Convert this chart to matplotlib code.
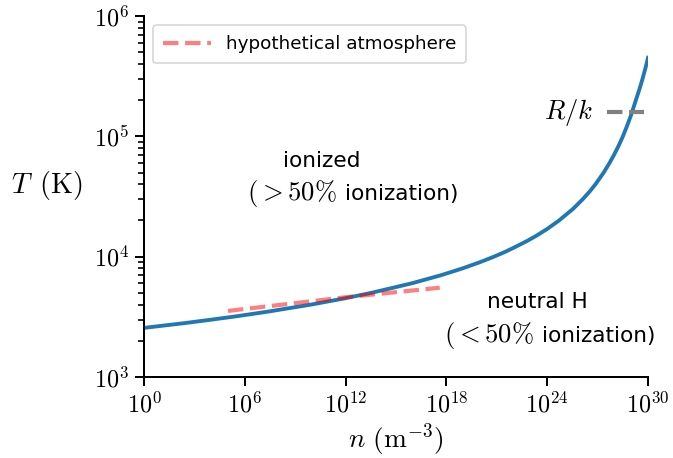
import matplotlib
matplotlib.use('Agg')
from matplotlib import pyplot as plt
from matplotlib import ticker
import numpy as np

# 50% ionization line of hydrogen
n_curve = [1.0, 2.4e2, 1.1e4, 3.4e5, 2.6e7, 9.0e9, 8.6e11, 3.3e13, 8.5e15,
           4.6e17, 9.4e18, 1.0e20, 6.8e20, 3.3e21, 1.2e22, 6.3e22, 2.4e23,
           1.0e24, 5.1e24, 3.5e25, 1.3e26, 3.5e26, 7.5e26, 2.3e27, 5.1e27,
           9.4e27, 1.9e28, 3.2e28, 5.4e28, 9.8e28, 1.9e29, 3.2e29, 4.7e29,
           7.1e29, 1.0e30]
T_curve = [2560, 2800, 3000, 3200, 3500, 4000, 4500, 5000, 6000,
           7000, 8000, 9000, 10000, 11000, 12000, 13500, 15000,
           17000, 20000, 25000, 30000, 35000, 40000, 50000, 60000,
           70000, 85000, 100000, 120000, 150000, 200000, 250000, 300000,
           370000, 450000]

# hypothetical atmosphere
n_atm = [1e5, 1e12, 4e17]
T_atm = [3540, 4600, 5520]

# R/k marker
RK = 1.578e5
n_rk = [3.6e27, 5.8e29]

LEGEND_LABEL = 'hypothetical atmosphere'
X_TICKS = [10.0 ** k for k in range(0, 31, 6)]


def exp_label(val, pos):
    return r'$10^{%d}$' % int(round(np.log10(val)))


def two_part_line(ax, x_split_left, x_split_right, y, math_part, text_part):
    ax.text(x_split_left, y, math_part, ha='right', va='baseline', fontsize=16)
    ax.text(x_split_right, y, text_part, ha='left', va='baseline', fontsize=13)


def main():
    plt.rcParams['mathtext.fontset'] = 'cm'
    plt.rcParams['font.family'] = 'DejaVu Sans'

    fig = plt.figure(figsize=(673 / 120, 458 / 120), dpi=120)
    ax = fig.add_axes([144 / 673, 1 - 377 / 458, 504 / 673, 361 / 458])

    ax.plot(n_curve, T_curve, color='#1f77b4', lw=2.3)
    ax.plot(n_atm, T_atm, color='red', alpha=0.5, ls='--', lw=2.5, label=LEGEND_LABEL)
    ax.plot(n_rk, [RK, RK], color='gray', ls='--', lw=2.5)
    ax.text(10 ** 26.75, RK, r'$R/k$', ha='right', va='center', fontsize=16)

    # region annotations
    ax.text(10 ** 10.6, 10 ** 4.746, 'ionized', ha='center', va='baseline', fontsize=13)
    two_part_line(ax, 10 ** 11.45, 10 ** 11.96, 10 ** 4.471, r'$(>50\%$', 'ionization)')
    ax.text(10 ** 23.39, 10 ** 3.574, 'neutral H', ha='center', va='baseline', fontsize=13)
    two_part_line(ax, 10 ** 23.2, 10 ** 23.71, 10 ** 3.291, r'$(<50\%$', 'ionization)')

    ax.set_xscale('log')
    ax.set_yscale('log')
    ax.set_xlim(1, 1e30)
    ax.set_ylim(1e3, 1e6)
    ax.xaxis.set_major_locator(ticker.FixedLocator(X_TICKS))
    ax.xaxis.set_minor_locator(ticker.NullLocator())
    ax.xaxis.set_major_formatter(ticker.FuncFormatter(exp_label))
    ax.yaxis.set_major_formatter(ticker.FuncFormatter(exp_label))

    for side in ['top', 'right']:
        ax.spines[side].set_visible(False)
    for side in ['left', 'bottom']:
        ax.spines[side].set_linewidth(1.2)
    ax.tick_params(which='major', length=5.5, width=1.2, labelsize=14.5)
    ax.tick_params(which='minor', length=3.5, width=1.0)

    ax.set_xlabel(r'$n\ (\mathrm{m}^{-3})$', fontsize=16.5, labelpad=2)
    ax.set_ylabel(r'$T\ \,(\mathrm{K})$', fontsize=17, rotation=0, ha='center', va='center')
    ax.yaxis.set_label_coords(-0.192, 0.53)

    ax.legend(loc='upper left', fontsize=11, handlelength=2.6, borderpad=0.55)

    fig.savefig('out.png', dpi=120)


if __name__ == '__main__':
    main()
